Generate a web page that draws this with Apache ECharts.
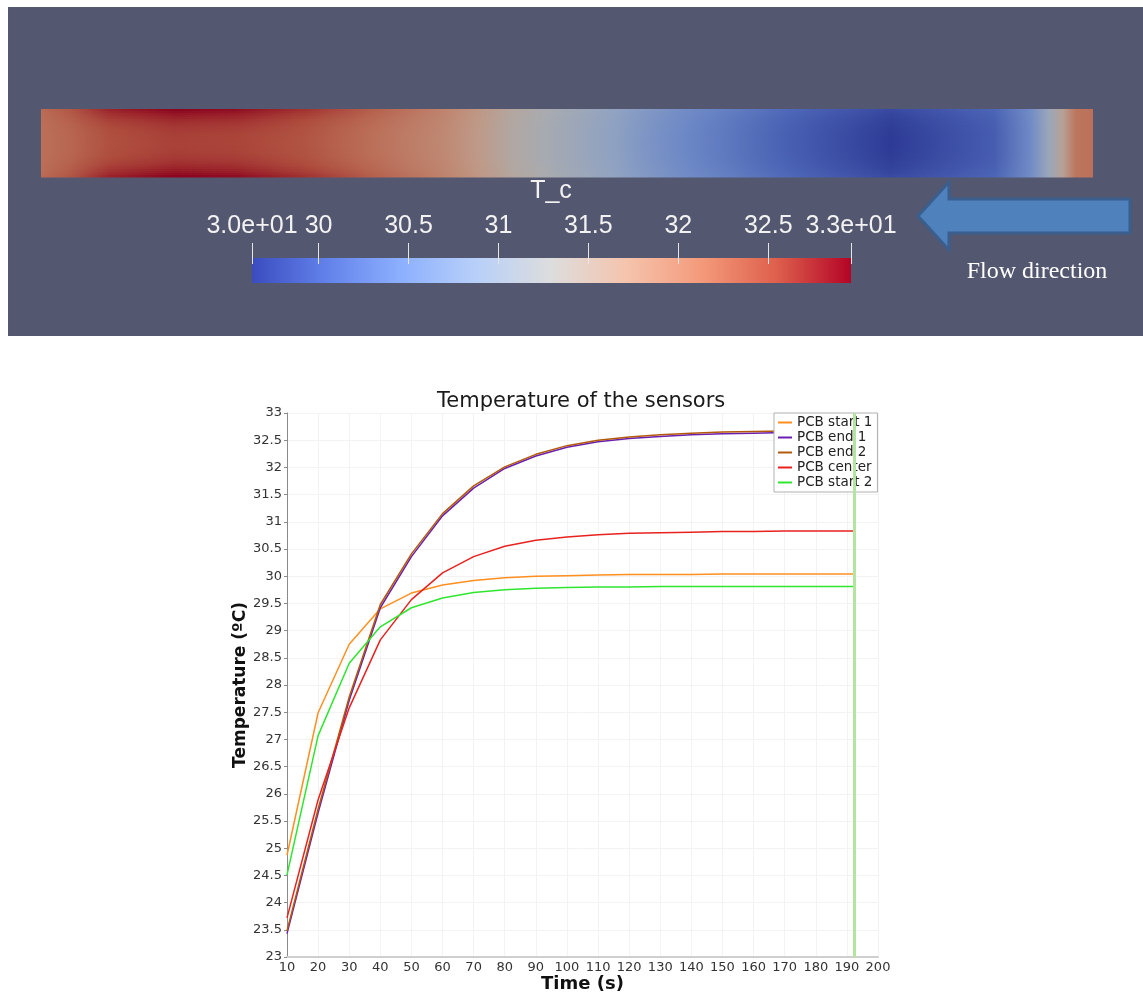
<!DOCTYPE html>
<html lang="en">
<head>
<meta charset="UTF-8">
<title>Temperature of the sensors</title>
<script src="https://cdn.jsdelivr.net/npm/echarts@6/dist/echarts.min.js"></script>
<style>
    html, body { margin: 0; padding: 0; background: #fff; }
    #main { width: 1143px; height: 992px; }
</style>
</head>
<body>
<div id="main"></div>
<script type="text/javascript">
    // sensor curves (time in s, temperature in ºC)
    var times = [10, 20, 30, 40, 50, 60, 70, 80, 90, 100, 110, 120, 130, 140, 150, 160, 170, 180, 190, 192.4];
    var pcbStart1 = [24.87, 27.49, 28.75, 29.40, 29.69, 29.84, 29.92, 29.97, 30.00, 30.01, 30.02, 30.03, 30.03, 30.03, 30.04, 30.04, 30.04, 30.04, 30.04, 30.04];
    var pcbEnd1   = [23.43, 25.65, 27.72, 29.42, 30.36, 31.11, 31.62, 31.98, 32.21, 32.37, 32.47, 32.53, 32.57, 32.60, 32.62, 32.63, 32.64, 32.64, 32.65, 32.65];
    var pcbEnd2   = [23.48, 25.72, 27.78, 29.48, 30.41, 31.15, 31.66, 32.01, 32.24, 32.40, 32.50, 32.56, 32.60, 32.63, 32.65, 32.66, 32.67, 32.67, 32.68, 32.68];
    var pcbCenter = [23.72, 25.89, 27.58, 28.83, 29.57, 30.06, 30.36, 30.55, 30.66, 30.72, 30.76, 30.79, 30.80, 30.81, 30.82, 30.82, 30.83, 30.83, 30.83, 30.83];
    var pcbStart2 = [24.51, 27.07, 28.40, 29.07, 29.42, 29.60, 29.70, 29.75, 29.78, 29.79, 29.80, 29.80, 29.81, 29.81, 29.81, 29.81, 29.81, 29.81, 29.81, 29.81];
    var seriesNames = ['PCB start 1', 'PCB end 1', 'PCB end 2', 'PCB center', 'PCB start 2'];
    var seriesColors = ['#ff8f1f', '#6a1fb0', '#b35a0a', '#e8221f', '#2ee62e'];
    var currentTime = 192.4;

    // T_c colour bar
    var cbMin = 29.63, cbMax = 32.96;
    var cbTicks = [29.63, 30, 30.5, 31, 31.5, 32, 32.5, 32.96];

    // PCB temperature field: fraction along the board, centreline T, edge T
    var barDist = [0, 0.029, 0.066, 0.127, 0.186, 0.251, 0.317, 0.382, 0.415, 0.448, 0.48, 0.513, 0.546, 0.579, 0.611, 0.645, 0.71, 0.808, 0.906, 0.94, 0.958, 0.971, 0.984, 1];
    var barMid  = [32.2, 32.3, 32.5, 32.6, 32.58, 32.46, 32.2, 31.93, 31.7, 31.4, 31.2, 31.03, 30.86, 30.63, 30.45, 30.3, 29.99, 29.63, 29.96, 30.46, 31.03, 31.53, 32.16, 32.2];
    var barEdge = [32.25, 32.45, 32.8, 32.98, 32.92, 32.7, 32.35, 32.0, 31.75, 31.45, 31.25, 31.08, 30.9, 30.7, 30.52, 30.38, 30.08, 29.78, 30.05, 30.5, 31.03, 31.53, 32.16, 32.2];

    // cool to warm colour map
    var cwStops = [[59, 76, 192], [98, 130, 234], [141, 176, 254], [184, 208, 249], [221, 221, 221],
                   [245, 196, 173], [244, 154, 123], [222, 96, 77], [180, 4, 38]];
    function coolWarm(t, k) {
        var f = (t - cbMin) / (cbMax - cbMin);
        f = Math.max(0, Math.min(1, f)) * 8;
        var i = Math.min(7, Math.floor(f)), r = f - i;
        var a = cwStops[i], b = cwStops[i + 1];
        var c = [0, 1, 2].map(function (j) { return Math.min(255, Math.round((a[j] + (b[j] - a[j]) * r) * (k || 1))); });
        return 'rgb(' + c.join(',') + ')';
    }

    var graphics = [
        {type: 'rect', shape: {x: 8, y: 7, width: 1135, height: 329}, style: {fill: '#53576f'}, z: 0}
    ];
    // heat bar, drawn as thin strips
    var barX = 41, barY = 109, barW = 1052, barH = 68, strip = 2;
    for (var s = 0; s < barH / strip; s++) {
        var w = Math.pow(Math.abs(((s + 0.5) * strip - barH / 2) / (barH / 2)), 2.5);
        var stops = barDist.map(function (d, i) {
            return {offset: d, color: coolWarm(barMid[i] + (barEdge[i] - barMid[i]) * w, 0.78)};
        });
        graphics.push({
            type: 'rect',
            shape: {x: barX, y: barY + s * strip, width: barW, height: strip + 0.6},
            style: {fill: new echarts.graphic.LinearGradient(0, 0, 1, 0, stops)},
            z: 1
        });
    }
    // colour bar
    graphics.push({
        type: 'rect',
        shape: {x: 252, y: 258, width: 599, height: 25},
        style: {fill: new echarts.graphic.LinearGradient(0, 0, 1, 0, cwStops.map(function (c, i) {
            return {offset: i / 8, color: 'rgb(' + c.join(',') + ')'};
        }))},
        z: 1
    });
    graphics.push({
        type: 'text', x: 551, y: 191, z: 2,
        style: {text: 'T_c', fill: '#f2f2f2', font: '25px "Liberation Sans"', align: 'center', verticalAlign: 'middle'}
    });
    // flow arrow
    graphics.push({
        type: 'polygon', z: 2,
        shape: {points: [[918, 216], [949, 182], [949, 199], [1130, 199], [1130, 233], [949, 233], [949, 250]]},
        style: {fill: '#4f81bd', stroke: '#3a5f8e', lineWidth: 3}
    });
    graphics.push({
        type: 'text', x: 1037, y: 272, z: 2,
        style: {text: 'Flow direction', fill: '#ffffff', font: '24px "Liberation Serif"', align: 'center', verticalAlign: 'middle'}
    });

    var chart = echarts.init(document.getElementById('main'));

    var series = [pcbStart1, pcbEnd1, pcbEnd2, pcbCenter, pcbStart2].map(function (arr, k) {
        return {
            name: seriesNames[k],
            type: 'line',
            xAxisIndex: 1,
            yAxisIndex: 1,
            showSymbol: false,
            color: seriesColors[k],
            lineStyle: {width: 1.5},
            data: times.map(function (t, i) { return [t, arr[i]]; })
        };
    });
    series[4].markLine = {
        silent: true,
        symbol: ['none', 'none'],
        label: {show: false},
        lineStyle: {color: '#b3e5a0', width: 3, type: 'solid'},
        data: [{xAxis: currentTime}]
    };

    var option = {
        animation: false,
        backgroundColor: '#ffffff',
        graphic: graphics,
        title: {
            text: 'Temperature of the sensors',
            left: 437,
            top: 391,
            padding: 0,
            textStyle: {fontFamily: 'DejaVu Sans', fontSize: 21, fontWeight: 'normal', color: '#1a1a1a'}
        },
        legend: {
            orient: 'vertical',
            left: 774,
            top: 413,
            padding: [2, 5, 2, 4],
            itemGap: 0,
            itemWidth: 14,
            itemHeight: 2,
            icon: 'rect',
            backgroundColor: '#ffffff',
            borderColor: '#b0b0b0',
            borderWidth: 1,
            textStyle: {fontFamily: 'DejaVu Sans', fontSize: 13.5, color: '#222', lineHeight: 15},
            data: seriesNames
        },
        grid: [
            {left: 252, width: 599, top: 264, height: 10, outerBoundsMode: 'none'},
            {left: 287, right: 265, top: 413, bottom: 35, outerBoundsMode: 'none'}
        ],
        xAxis: [
            {
                gridIndex: 0,
                type: 'value',
                position: 'top',
                min: cbMin,
                max: cbMax,
                z: 10,
                axisLine: {show: false, onZero: false},
                splitLine: {show: false},
                axisTick: {show: true, customValues: cbTicks, length: 21, lineStyle: {color: '#e6e6e6', width: 1}},
                axisLabel: {
                    customValues: cbTicks,
                    margin: 25,
                    color: '#f2f2f2',
                    fontSize: 25,
                    fontFamily: 'Liberation Sans',
                    formatter: function (v) {
                        if (v === cbMin || v === cbMax) {
                            return v.toExponential(1).replace(/e([+-])(\d)$/, 'e$10$2');
                        }
                        return String(v);
                    }
                }
            },
            {
                gridIndex: 1,
                type: 'value',
                min: 10,
                max: 200,
                interval: 10,
                name: 'Time (s)',
                nameLocation: 'middle',
                nameGap: 18,
                nameMoveOverlap: false,
                nameTextStyle: {fontFamily: 'DejaVu Sans', fontWeight: 'bold', fontSize: 18, color: '#111'},
                axisLine: {lineStyle: {color: '#cfcfcf', width: 2}},
                axisTick: {show: false},
                axisLabel: {margin: 4, fontFamily: 'DejaVu Sans', fontSize: 13, color: '#333'},
                splitLine: {show: true, lineStyle: {color: '#f3f3f3'}}
            }
        ],
        yAxis: [
            {gridIndex: 0, type: 'value', min: 0, max: 1, show: false},
            {
                gridIndex: 1,
                type: 'value',
                min: 23,
                max: 33,
                interval: 0.5,
                name: 'Temperature (ºC)',
                nameLocation: 'middle',
                nameGap: 38,
                nameMoveOverlap: false,
                nameRotate: 90,
                nameTextStyle: {fontFamily: 'DejaVu Sans', fontWeight: 'bold', fontSize: 17, color: '#111'},
                axisLine: {show: true, lineStyle: {color: '#8a8a8a', width: 1}},
                axisTick: {show: true, length: 3, lineStyle: {color: '#8a8a8a'}},
                axisLabel: {margin: 5, fontFamily: 'DejaVu Sans', fontSize: 13, color: '#333'},
                splitLine: {show: true, lineStyle: {color: '#f3f3f3'}}
            }
        ],
        series: series
    };
    chart.setOption(option);
</script>
</body>
</html>
